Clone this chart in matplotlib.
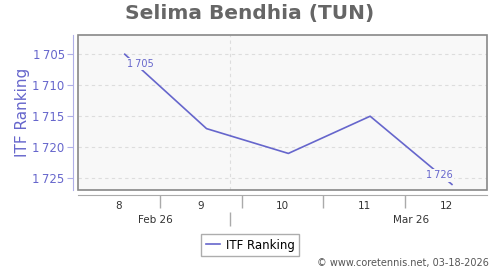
import numpy as np
import matplotlib.pyplot as plt
import matplotlib.dates as mdates
from matplotlib.patches import Rectangle
from matplotlib.ticker import FuncFormatter, FixedLocator, NullFormatter
from datetime import datetime

# Ranking data (one point per weekly release)
rank_dates = ['2026-02-20', '2026-02-27', '2026-03-06', '2026-03-13', '2026-03-20']
rank_values = [1705, 1717, 1721, 1715, 1726]
y_ticks = [1705, 1710, 1715, 1720, 1725]

# Week numbers shown on the x axis, centred on each week
week_labels = ['8', '9', '10', '11', '12']
week_centres = ['2026-02-19 12:00', '2026-02-26 12:00', '2026-03-05 12:00',
                '2026-03-12 12:00', '2026-03-19 12:00']
week_starts = ['2026-02-23', '2026-03-02', '2026-03-09', '2026-03-16']
month_labels = ['Feb 26', 'Mar 26']
month_label_pos = ['2026-02-22 14:00', '2026-03-16 12:00']
month_starts = ['2026-03-01']

line_col = '#6666cc'
plot_bg = '#f8f8f8'


def to_num(vals):
    return mdates.date2num([datetime.fromisoformat(v) for v in vals])


def rank_fmt(v, pos=None):
    s = f'{int(round(v)):,}'
    return s.replace(',', '\u2009')


fig = plt.figure(figsize=(5, 2.7), dpi=100)
ax = fig.add_axes([78 / 500, 1 - 190 / 270, 409 / 500, 155 / 270])
ax.set_facecolor(plot_bg)

x = to_num(rank_dates)
ax.plot(x, rank_values, color=line_col, lw=1.2, label='ITF Ranking', zorder=3)

ax.set_xlim(to_num(['2026-02-16'])[0], to_num(['2026-03-23'])[0])
ax.set_ylim(1726.9, 1701.9)

# frame round the plot area
ax.add_patch(Rectangle((0, 0), 1, 1, transform=ax.transAxes, fill=False,
                       edgecolor='#888888', lw=1.2, clip_on=False, zorder=5))
for s in ['top', 'right']:
    ax.spines[s].set_visible(False)
ax.spines['left'].set_position(('outward', 3.6))
ax.spines['left'].set_color('#b0b0e8')
ax.spines['bottom'].set_position(('outward', 3.6))
ax.spines['bottom'].set_color('#aaaaaa')

# y axis
ax.set_yticks(y_ticks)
ax.yaxis.set_major_formatter(FuncFormatter(rank_fmt))
ax.tick_params(axis='y', colors='#b0b0e8', labelcolor=line_col, labelsize=8.5,
               length=4, pad=2)
ax.set_ylabel('ITF Ranking', color=line_col, fontsize=11, labelpad=2)
ax.grid(axis='y', color='#dddddd', ls=(0, (3, 3)), lw=0.8)

# vertical month boundary grid line
for m in to_num(month_starts):
    ax.axvline(m, color='#dddddd', ls=(0, (3, 3)), lw=0.8, zorder=1)

# x axis: week numbers + week boundary ticks
ax.xaxis.set_major_locator(FixedLocator(to_num(week_centres)))
ax.set_xticklabels(week_labels)
ax.xaxis.set_minor_locator(FixedLocator(to_num(week_starts)))
ax.xaxis.set_minor_formatter(NullFormatter())
ax.tick_params(axis='x', which='major', length=0, pad=4, labelsize=7.5,
               labelcolor='#333333')
ax.tick_params(axis='x', which='minor', length=9, color='#aaaaaa', width=1)

# second row: month names
sec = ax.secondary_xaxis(-22 / 155)
sec.spines['bottom'].set_visible(False)
sec.xaxis.set_major_locator(FixedLocator(to_num(month_starts)))
sec.xaxis.set_major_formatter(NullFormatter())
sec.xaxis.set_minor_locator(FixedLocator(to_num(month_label_pos)))
sec.xaxis.set_minor_formatter(FuncFormatter(lambda v, p: month_labels[p]))
sec.tick_params(which='major', length=10, color='#aaaaaa', width=1)
sec.tick_params(which='minor', length=0, pad=2, labelsize=7.5, labelcolor='#333333')

# value labels on first and last point
box = dict(facecolor=plot_bg, edgecolor='none', pad=1)
ax.annotate(rank_fmt(rank_values[0]), (x[0], rank_values[0]), xytext=(1.5, -7),
            textcoords='offset points', ha='left', va='center', fontsize=7,
            color=line_col, bbox=box, zorder=4)
ax.annotate(rank_fmt(rank_values[-1]), (x[-1], rank_values[-1]), xytext=(0.5, 6.5),
            textcoords='offset points', ha='right', va='center', fontsize=7,
            color=line_col, bbox=box, zorder=4)

fig.suptitle('Selima Bendhia (TUN)', fontsize=14.5, fontweight='bold',
             color='#666666', y=1 - 14 / 270, va='center')

fig.legend(loc='center', bbox_to_anchor=(0.5, 1 - 245 / 270), fontsize=8.5,
           frameon=True, fancybox=False, edgecolor='#999999', handlelength=1.2,
           handletextpad=0.5, borderpad=0.35, borderaxespad=0)

fig.text(489 / 500, 1 - 263 / 270, '\u00a9 www.coretennis.net, 03-18-2026',
         ha='right', va='center', fontsize=7, color='#555555')

fig.savefig('out.png', dpi=100)
